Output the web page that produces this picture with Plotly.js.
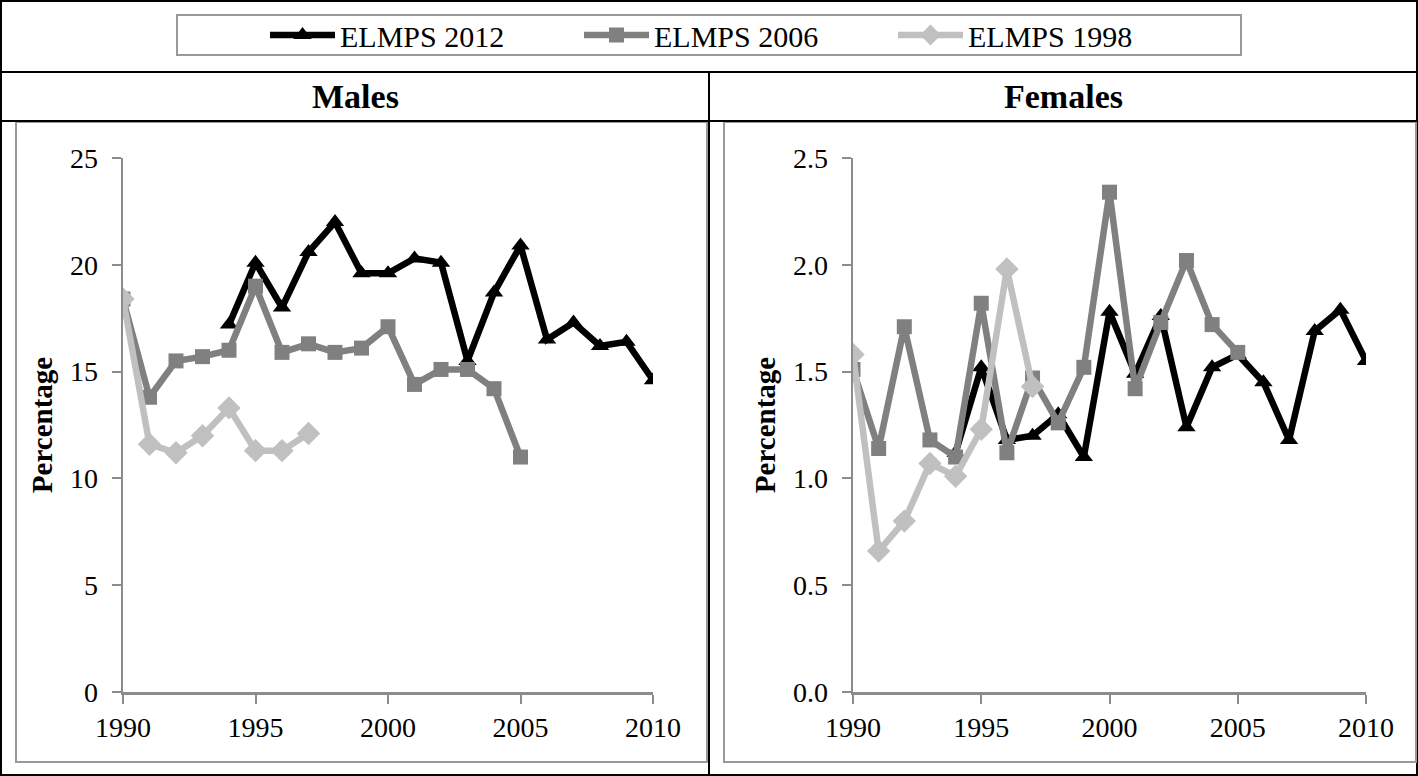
<!DOCTYPE html>
<html>
<head>
<meta charset="utf-8">
<script src="https://cdn.plot.ly/plotly-3.0.1.min.js"></script>
<style>html,body{margin:0;padding:0;background:#fff;overflow:hidden}#chart{width:1418px;height:776px;overflow:hidden}</style>
</head>
<body>
<div id="chart"></div>
<script>
// ---- Data ----
const seriesNames = ["ELMPS 2012", "ELMPS 2006", "ELMPS 1998"];
const panelTitles = ["Males", "Females"];
const yAxisTitle = "Percentage";

const years2012 = [1994,1995,1996,1997,1998,1999,2000,2001,2002,2003,2004,2005,2006,2007,2008,2009,2010];
const years2006 = [1990,1991,1992,1993,1994,1995,1996,1997,1998,1999,2000,2001,2002,2003,2004,2005];
const years1998 = [1990,1991,1992,1993,1994,1995,1996,1997];

const males2012 = [17.2,20.1,18.0,20.6,22.0,19.6,19.6,20.3,20.1,15.5,18.7,20.9,16.5,17.3,16.2,16.4,14.6];
const males2006 = [18.4,13.8,15.5,15.7,16.0,19.0,15.9,16.3,15.9,16.1,17.1,14.4,15.1,15.1,14.2,11.0];
const males1998 = [18.4,11.6,11.2,12.0,13.3,11.3,11.3,12.1];

const females2012 = [1.12,1.52,1.18,1.20,1.30,1.10,1.78,1.49,1.76,1.24,1.52,1.58,1.45,1.18,1.69,1.79,1.55];
const females2006 = [1.51,1.14,1.71,1.18,1.10,1.82,1.12,1.47,1.26,1.52,2.34,1.42,1.73,2.02,1.72,1.59];
const females1998 = [1.58,0.66,0.80,1.07,1.01,1.23,1.98,1.43];

const xTickVals = [1990,1995,2000,2005,2010];
const maleTickVals = [0,5,10,15,20,25];
const femaleTickVals = [0,0.5,1.0,1.5,2.0,2.5];

// ---- Styles ----
const W = 1418, H = 776;
const px = v => v / W;
const py = v => 1 - v / H;
const FONT = "Liberation Serif, Times New Roman, serif";
const colors = ["#000000", "#808080", "#c0c0c0"];
const symbols = ["triangle-up", "square", "diamond"];
const msizes = [16, 15, 18];

function mk(x, y, i, xa, ya, show) {
  return {
    x: x, y: y, type: "scatter", mode: "lines+markers",
    name: seriesNames[i], legendgroup: seriesNames[i], showlegend: show,
    xaxis: xa, yaxis: ya,
    line: {color: colors[i], width: 6.5},
    marker: {color: colors[i], symbol: symbols[i], size: msizes[i]},
    hoverinfo: "x+y"
  };
}

const traces = [
  mk(years2012, males2012, 0, "x", "y", true),
  mk(years2006, males2006, 1, "x", "y", true),
  mk(years1998, males1998, 2, "x", "y", true),
  mk(years2012, females2012, 0, "x2", "y2", false),
  mk(years2006, females2006, 1, "x2", "y2", false),
  mk(years1998, females1998, 2, "x2", "y2", false)
];

const axisCommon = {
  showgrid: false, zeroline: false, showline: true,
  linecolor: "#8c8c8c", linewidth: 2.5,
  ticks: "outside", ticklen: 9, tickwidth: 2, tickcolor: "#8c8c8c",
  tickfont: {family: FONT, size: 28, color: "#000"}
};

function xa(domain, anchor) {
  return Object.assign({}, axisCommon, {
    domain: domain, anchor: anchor, range: [1990, 2010],
    tickvals: xTickVals, ticklabelstandoff: 0
  });
}
function ya(domain, anchor, range, tv, fmt) {
  return Object.assign({}, axisCommon, {
    domain: domain, anchor: anchor, range: range, tickvals: tv,
    tickformat: fmt, ticklabelstandoff: 8,
    title: {text: yAxisTitle, font: {family: FONT, size: 29, color: "#000", weight: "bold"}, standoff: 9}
  });
}

const yDom = [py(692), py(158)];

const lineBlack = {color: "#000", width: 2};
const lineGray = {color: "#999", width: 2};
const shapes = [
  {type: "rect", xref: "paper", yref: "paper", x0: px(1), x1: px(1417), y0: py(775), y1: py(1), line: lineBlack, layer: "below"},
  {type: "line", xref: "paper", yref: "paper", x0: 0, x1: 1, y0: py(72), y1: py(72), line: lineBlack},
  {type: "line", xref: "paper", yref: "paper", x0: 0, x1: 1, y0: py(121), y1: py(121), line: lineBlack},
  {type: "line", xref: "paper", yref: "paper", x0: px(709), x1: px(709), y0: py(72), y1: 0, line: lineBlack},
  {type: "rect", xref: "paper", yref: "paper", x0: px(16), x1: px(707), y0: py(762), y1: py(122), line: lineGray, layer: "below"},
  {type: "rect", xref: "paper", yref: "paper", x0: px(724), x1: px(1416), y0: py(762), y1: py(122), line: lineGray, layer: "below"},
  {type: "rect", xref: "paper", yref: "paper", x0: px(177), x1: px(1241), y0: py(55), y1: py(15), line: {color: "#999", width: 2}, layer: "below"}
];

const annotations = [
  {text: panelTitles[0], xref: "paper", yref: "paper", x: px(355), y: py(96), xanchor: "center", yanchor: "middle",
   showarrow: false, font: {family: FONT, size: 34, color: "#000", weight: "bold"}},
  {text: panelTitles[1], xref: "paper", yref: "paper", x: px(1063), y: py(96), xanchor: "center", yanchor: "middle",
   showarrow: false, font: {family: FONT, size: 34, color: "#000", weight: "bold"}}
];

const layout = {
  width: W, height: H,
  margin: {l: 0, r: 0, t: 0, b: 0},
  paper_bgcolor: "#fff", plot_bgcolor: "rgba(0,0,0,0)",
  font: {family: FONT, color: "#000"},
  showlegend: true,
  legend: {
    orientation: "h", x: px(265), y: py(35), xanchor: "left", yanchor: "middle",
    font: {family: FONT, size: 30, color: "#000"},
    bgcolor: "rgba(0,0,0,0)", borderwidth: 0,
    itemwidth: 65, entrywidth: 234, entrywidthmode: "pixels", traceorder: "normal"
  },
  xaxis: xa([px(123), px(653)], "y"),
  yaxis: ya(yDom, "x", [0, 25], maleTickVals, "d"),
  xaxis2: xa([px(853), px(1366)], "y2"),
  yaxis2: ya(yDom, "x2", [0, 2.5], femaleTickVals, ".1f"),
  shapes: shapes,
  annotations: annotations
};

Plotly.newPlot("chart", traces, layout, {displayModeBar: false, staticPlot: true});
</script>
</body>
</html>
